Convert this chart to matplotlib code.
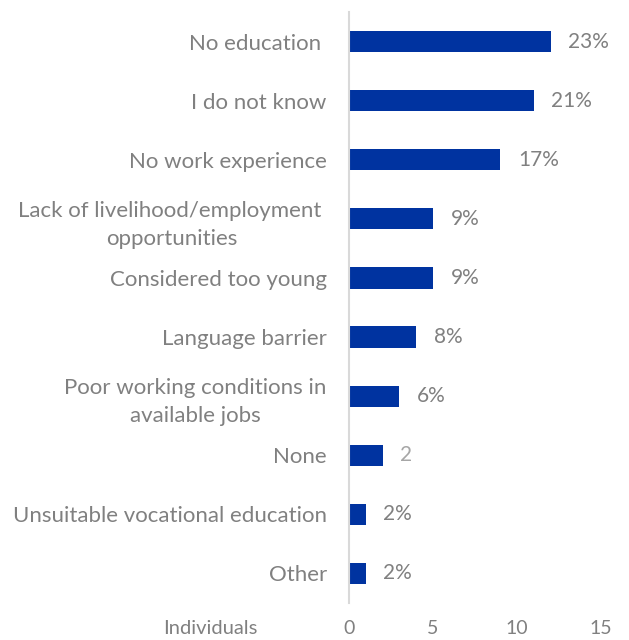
import matplotlib.pyplot as plt

categories = [
    "No education ",
    "I do not know",
    "No work experience",
    "Lack of livelihood/employment \nopportunities",
    "Considered too young",
    "Language barrier",
    "Poor working conditions in\navailable jobs",
    "None",
    "Unsuitable vocational education",
    "Other",
]
counts = [12, 11, 9, 5, 5, 4, 3, 2, 1, 1]
labels = ["23%", "21%", "17%", "9%", "9%", "8%", "6%", "2", "2%", "2%"]
ticks = [0, 5, 10, 15]

plt.rcParams['font.family'] = ['Lato', 'DejaVu Sans']

fig = plt.figure(figsize=(6.29, 6.40), dpi=100)
ax = fig.add_axes([349 / 629, 37 / 640, 252 / 629, 591 / 640])

pos = list(range(len(categories)))
ax.barh(pos, counts, height=0.36, color='#0033A0')
ax.set_ylim(len(categories) - 0.5, -0.5)
ax.set_xlim(0, 15)

for y, v, t in zip(pos, counts, labels):
    col = '#a6a6a6' if t == '2' else '#808080'
    ax.text(v + 1.05, y, t, va='center', ha='left', fontsize=15, color=col)

ax.set_yticks(pos)
ax.set_yticklabels(categories, fontsize=16, color='#808080', ha='right',
                   multialignment='center', linespacing=1.5)
ax.set_xticks(ticks)
ax.set_xticklabels([str(t) for t in ticks], fontsize=14, color='#808080')
ax.tick_params(axis='both', length=0)
ax.tick_params(axis='y', pad=16)
ax.tick_params(axis='x', pad=12)

for s in ['top', 'right', 'bottom']:
    ax.spines[s].set_visible(False)
ax.spines['left'].set_color('#d9d9d9')
ax.spines['left'].set_linewidth(1.5)

fig.text(210 / 629, 1 - 628 / 640, "Individuals", fontsize=14.5, color='#808080',
         ha='center', va='center')

fig.savefig('out.png', dpi=100)
